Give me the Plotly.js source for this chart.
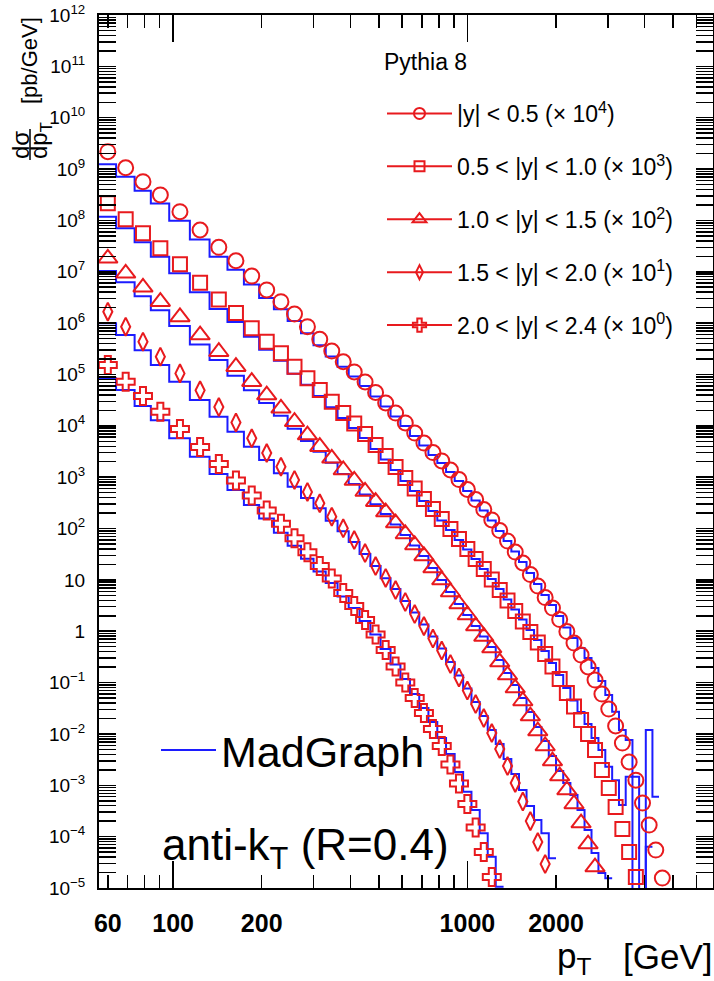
<!DOCTYPE html>
<html>
<head>
<meta charset="utf-8">
<script src="https://cdn.plot.ly/plotly-3.0.1.min.js"></script>
<style>html,body{margin:0;padding:0;background:#fff;}#chart{width:714px;height:981px;}</style>
</head>
<body>
<div id="chart"></div>
<script>
// pT bin edges [GeV]
const binEdges = [56, 64, 74, 84, 97, 114, 133, 153, 174, 196, 220, 245, 272, 300, 330, 362, 395, 430, 468, 507, 548, 592, 638, 686, 737, 790, 846, 905, 967, 1032, 1101, 1172, 1248, 1327, 1410, 1497, 1588, 1684, 1784, 1890, 2000, 2116, 2238, 2366, 2500, 2640, 2787, 2941, 3103, 3273, 3450, 3637, 3832, 4037, 4252, 4477, 4713];

// Pythia 8 (markers), dsigma/dpT [pb/GeV], scaled
const pythiaY05 = [2.18e9, 1.06e9, 5.67e8, 3.13e8, 1.48e8, 6.50e7, 2.99e7, 1.64e7, 8.26e6, 4.42e6, 2.61e6, 1.50e6, 8.51e5, 4.84e5, 2.86e5, 1.77e5, 1.12e5, 7.13e4, 4.46e4, 2.78e4, 1.77e4, 1.14e4, 7.24e3, 4.62e3, 3.02e3, 2.07e3, 1.38e3, 899, 575, 367, 234, 147, 91.4, 57.1, 34.8, 21.3, 12.7, 7.59, 4.53, 2.83, 1.69, 0.986, 0.589, 0.344, 0.201, 0.112, 0.0598, 0.0305, 0.0143, 6.65e-3, 2.84e-3, 1.26e-3, 4.51e-4, 1.68e-4, 5.48e-5, 1.56e-5];
const pythiaY10 = [2.15e8, 1.05e8, 5.61e7, 2.86e7, 1.40e7, 6.12e6, 2.88e6, 1.57e6, 7.92e5, 4.35e5, 2.58e5, 1.42e5, 8.41e4, 4.98e4, 2.94e4, 1.77e4, 1.11e4, 6.92e3, 4.23e3, 2.58e3, 1.58e3, 964, 601, 376, 240, 153, 97.7, 62.5, 39.9, 25.5, 16.3, 10.2, 6.34, 3.96, 2.48, 1.55, 0.966, 0.603, 0.360, 0.206, 0.117, 0.0627, 0.0342, 0.0187, 9.95e-3, 4.86e-3, 1.98e-3, 8.85e-4, 3.78e-4, 1.41e-4, 5.04e-5, 1.64e-5];
const pythiaY15 = [1.83e7, 9.33e6, 4.98e6, 2.61e6, 1.32e6, 5.86e5, 2.77e5, 1.42e5, 7.23e4, 3.98e4, 2.19e4, 1.20e4, 6.62e3, 3.92e3, 2.33e3, 1.38e3, 861, 526, 333, 209, 128, 78.2, 47.8, 29.2, 17.0, 9.93, 5.81, 3.39, 2.07, 1.26, 0.789, 0.471, 0.251, 0.140, 0.0783, 0.0438, 0.0223, 0.0114, 5.82e-3, 2.96e-3, 1.51e-3, 8.09e-4, 4.32e-4, 1.84e-4, 7.18e-5, 2.56e-5];
const pythiaY20 = [1.67e6, 8.51e5, 4.35e5, 2.22e5, 1.05e5, 4.91e4, 2.32e4, 1.16e4, 5.71e3, 2.95e3, 1.60e3, 881, 514, 310, 170, 101, 59.7, 33.3, 18.6, 10.9, 6.34, 3.71, 2.16, 1.26, 0.721, 0.421, 0.230, 0.126, 0.0700, 0.0382, 0.0204, 0.0104, 5.08e-3, 2.37e-3, 1.11e-3, 4.83e-4, 2.01e-4, 7.85e-5, 2.93e-5, 9.0e-6];
const pythiaY24 = [1.53e5, 7.23e4, 3.80e4, 1.88e4, 8.67e3, 3.86e3, 1.80e3, 861, 440, 224, 124, 64.4, 34.4, 18.6, 10.6, 5.55, 3.10, 1.65, 0.863, 0.431, 0.206, 0.100, 0.0500, 0.0255, 0.0125, 5.82e-3, 2.54e-3, 1.08e-3, 4.32e-4, 1.50e-4, 5.01e-5, 1.63e-5];

// MadGraph (blue histograms), same scaling; 0 = empty bin
const madgraphY05 = [1.24e9, 7.10e8, 3.79e8, 2.13e8, 9.87e7, 4.25e7, 1.95e7, 1.10e7, 5.65e6, 3.08e6, 1.87e6, 1.10e6, 6.36e5, 3.70e5, 2.24e5, 1.42e5, 9.12e4, 5.96e4, 3.72e4, 2.38e4, 1.52e4, 9.91e3, 6.33e3, 4.13e3, 2.70e3, 1.89e3, 1.26e3, 841, 537, 351, 224, 143, 89.4, 57.1, 35.6, 22.3, 13.6, 8.30, 5.07, 3.24, 1.98, 1.18, 0.738, 0.471, 0.301, 0.192, 0.107, 0.0573, 0.0271, 0.0119, 7.61e-3, 1.47e-3, 0, 0.0119, 5.98e-4];
const madgraphY10 = [1.18e8, 7.02e7, 3.75e7, 1.95e7, 9.33e6, 4.00e6, 1.88e6, 1.05e6, 5.41e5, 3.03e5, 1.85e5, 1.03e5, 6.29e4, 3.80e4, 2.30e4, 1.42e4, 9.06e3, 5.78e3, 3.53e3, 2.21e3, 1.38e3, 841, 537, 343, 219, 143, 93.5, 59.7, 39.0, 25.5, 16.3, 10.4, 6.64, 4.14, 2.65, 1.69, 1.06, 0.674, 0.411, 0.240, 0.140, 0.0783, 0.0448, 0.0267, 0.0156, 8.32e-3, 4.86e-3, 2.30e-3, 1.26e-3, 4.12e-4, 1.47e-3, 0, 0, 6.36e-5];
const madgraphY15 = [1.03e7, 6.23e6, 3.33e6, 1.78e6, 8.79e5, 3.83e5, 1.91e5, 9.46e4, 4.93e4, 2.78e4, 1.57e4, 8.79e3, 5.06e3, 3.13e3, 1.90e3, 1.15e3, 736, 459, 297, 192, 120, 74.8, 46.7, 29.2, 17.0, 9.93, 5.81, 3.39, 2.07, 1.26, 0.789, 0.492, 0.275, 0.153, 0.0896, 0.0500, 0.0267, 0.0136, 7.28e-3, 3.72e-3, 1.90e-3, 1.11e-3, 6.46e-4, 3.30e-4, 1.35e-4, 4.80e-5, 1.95e-5, 1.54e-5];
const madgraphY20 = [9.91e5, 5.86e5, 2.97e5, 1.53e5, 7.23e4, 3.18e4, 1.50e4, 7.67e3, 3.92e3, 2.16e3, 1.19e3, 652, 393, 248, 142, 88.3, 54.6, 31.9, 18.6, 10.7, 6.64, 3.87, 2.31, 1.35, 0.789, 0.461, 0.251, 0.137, 0.0766, 0.0418, 0.0223, 0.0119, 6.36e-3, 3.25e-3, 1.66e-3, 8.09e-4, 3.94e-4, 2.10e-4, 1.17e-4, 3.78e-5];
const madgraphY24 = [8.41e4, 4.98e4, 2.43e4, 1.29e4, 5.71e3, 2.50e3, 1.15e3, 562, 287, 157, 82.8, 46.0, 25.7, 14.6, 8.69, 4.74, 2.83, 1.58, 0.863, 0.450, 0.225, 0.117, 0.0598, 0.0319, 0.0171, 8.32e-3, 4.06e-3, 1.81e-3, 7.49e-4, 3.30e-4, 1.16e-4, 4.06e-5, 1.06e-5];

const seriesLabels = [
  '|y| < 0.5 (× 10<sup>4</sup>)',
  '0.5 < |y| < 1.0 (× 10<sup>3</sup>)',
  '1.0 < |y| < 1.5 (× 10<sup>2</sup>)',
  '1.5 < |y| < 2.0 (× 10<sup>1</sup>)',
  '2.0 < |y| < 2.4 (× 10<sup>0</sup>)'
];
const xTickVals = [60, 100, 200, 1000, 2000];
const xTickText = ['60', '100', '200', '1000', '2000'];
const xMinorVals = [60, 70, 80, 90, 200, 300, 400, 500, 600, 700, 800, 900, 2000, 3000, 4000, 5000, 6000];
const xLongTicks = [100, 1000];
const yTickVals = [1e-5, 1e-4, 1e-3, 1e-2, 1e-1, 1, 10, 1e2, 1e3, 1e4, 1e5, 1e6, 1e7, 1e8, 1e9, 1e10, 1e11, 1e12];
const yTickText = ['10<sup>−5</sup>', '10<sup>−4</sup>', '10<sup>−3</sup>', '10<sup>−2</sup>', '10<sup>−1</sup>', '1', '10', '10<sup>2</sup>', '10<sup>3</sup>', '10<sup>4</sup>', '10<sup>5</sup>', '10<sup>6</sup>', '10<sup>7</sup>', '10<sup>8</sup>', '10<sup>9</sup>', '10<sup>10</sup>', '10<sup>11</sup>', '10<sup>12</sup>'];

const RED = 'rgb(232,26,30)';
const BLUE = 'rgb(28,28,255)';
const symbols = ['circle-open', 'square-open', 'triangle-up-open', 'diamond-tall-open', 'cross-open'];
const sizes = [15, 14, 17, 13, 15];
const legendSizes = [11, 10, 12, 10, 11];
const pythiaSets = [pythiaY05, pythiaY10, pythiaY15, pythiaY20, pythiaY24];
const mgSets = [madgraphY05, madgraphY10, madgraphY15, madgraphY20, madgraphY24];

const yMinorVals = [];
for (let k = -5; k < 12; k++) for (let m = 2; m <= 9; m++) yMinorVals.push(m * Math.pow(10, k));

const centers = vals => vals.map((_, i) => (binEdges[i] + binEdges[i + 1]) / 2);

const traces = [];
// MadGraph histograms
mgSets.forEach((vals, s) => {
  const ys = vals.map(v => v > 0 ? v : 1e-12);
  ys.push(ys[ys.length - 1]);
  traces.push({
    type: 'scatter', mode: 'lines', x: binEdges.slice(0, vals.length + 1), y: ys,
    line: {shape: 'hv', color: BLUE, width: 2},
    name: 'MadGraph', legend: 'legend2', showlegend: s === 0, hoverinfo: 'skip'
  });
});
// Pythia markers
pythiaSets.forEach((vals, s) => {
  traces.push({
    type: 'scatter', mode: 'markers', x: centers(vals), y: vals, cliponaxis: false,
    marker: {symbol: symbols[s], size: sizes[s], color: RED, line: {color: RED, width: 2}},
    showlegend: false, hoverinfo: 'skip'
  });
});
// Legend entries (Pythia) - placeholders with no drawn point
pythiaSets.forEach((vals, s) => {
  traces.push({
    type: 'scatter', mode: 'lines+markers', x: [null], y: [null],
    marker: {symbol: symbols[s], size: legendSizes[s], color: RED, line: {color: RED, width: 2}},
    line: {color: RED, width: 2},
    name: seriesLabels[s], legendgroup: 'g' + s, showlegend: true, legend: 'legend', hoverinfo: 'skip'
  });
});
// long ticks axis carrier
traces.push({type: 'scatter', mode: 'markers', x: [null], y: [null], xaxis: 'x2', showlegend: false, hoverinfo: 'skip'});

const W = 614, H = 873, L0 = 99, T0 = 15;
const px = x => (x - L0) / W;
const py = y => (T0 + H - y) / H;

const layout = {
  width: 714, height: 981,
  margin: {l: 99, r: 1, t: 15, b: 93, pad: 0},
  paper_bgcolor: '#fff', plot_bgcolor: '#fff',
  font: {family: 'Liberation Sans, Arial, Helvetica, sans-serif', color: '#000'},
  showlegend: true,
  xaxis: {
    type: 'log', range: [Math.log10(56), 3.8344], tickmode: 'array', tickvals: xTickVals, ticktext: xTickText,
    ticks: 'inside', ticklen: 13, tickwidth: 1.5, tickcolor: '#000',
    showline: true, linewidth: 2, linecolor: '#000', mirror: 'allticks',
    showgrid: false, zeroline: false, tickfont: {size: 25, weight: 'bold'}, ticklabelstandoff: 12,
    minor: {tickmode: 'array', tickvals: xMinorVals, ticks: 'inside', ticklen: 13, tickwidth: 1.5, tickcolor: '#000', showgrid: false}
  },
  xaxis2: {
    type: 'log', range: [Math.log10(56), 3.8344], overlaying: 'x', anchor: 'y', side: 'bottom',
    tickmode: 'array', tickvals: xLongTicks, ticks: 'inside', ticklen: 27, tickwidth: 1.5, tickcolor: '#000',
    showticklabels: false, showline: false, showgrid: false, zeroline: false, mirror: 'ticks'
  },
  yaxis: {
    type: 'log', range: [-5, 12], tickmode: 'array', tickvals: yTickVals, ticktext: yTickText,
    ticks: 'inside', ticklen: 17, tickwidth: 1.5, tickcolor: '#000',
    showline: true, linewidth: 2, linecolor: '#000', mirror: 'allticks',
    showgrid: false, zeroline: false, tickfont: {size: 19}, ticklabelstandoff: 8,
    minor: {tickmode: 'array', tickvals: yMinorVals, ticks: 'inside', ticklen: 9, tickwidth: 1.5, tickcolor: '#000', showgrid: false}
  },
  legend: {
    x: px(382), y: py(92), xanchor: 'left', yanchor: 'top', bgcolor: 'rgba(0,0,0,0)',
    font: {size: 23}, itemwidth: 65, traceorder: 'grouped', tracegroupgap: 20
  },
  legend2: {
    x: px(156), y: py(750), xanchor: 'left', yanchor: 'middle', bgcolor: 'rgba(0,0,0,0)',
    font: {size: 43}, itemwidth: 55
  },
  annotations: [
    {text: 'Pythia 8', xref: 'paper', yref: 'paper', x: px(382), y: py(62), xanchor: 'left', yanchor: 'middle', showarrow: false, font: {size: 23}},
    {text: 'anti-k<sub>T</sub> (R=0.4)', xref: 'paper', yref: 'paper', x: px(160), y: py(848), xanchor: 'left', yanchor: 'middle', showarrow: false, font: {size: 44}},
    {text: 'p<sub>T</sub>', xref: 'paper', yref: 'paper', x: px(555), y: py(958), xanchor: 'left', yanchor: 'middle', showarrow: false, font: {size: 35}},
    {text: '[GeV]', xref: 'paper', yref: 'paper', x: px(714), y: py(956), xanchor: 'right', yanchor: 'middle', showarrow: false, font: {size: 35}},
    {text: '[pb/GeV]', xref: 'paper', yref: 'paper', x: px(29), y: py(61), xanchor: 'center', yanchor: 'middle', textangle: -90, showarrow: false, font: {size: 22}},
    {text: 'dσ', xref: 'paper', yref: 'paper', x: px(20), y: py(145), xanchor: 'center', yanchor: 'middle', textangle: -90, showarrow: false, font: {size: 24}},
    {text: 'dp<sub>T</sub>', xref: 'paper', yref: 'paper', x: px(40), y: py(141), xanchor: 'center', yanchor: 'middle', textangle: -90, showarrow: false, font: {size: 24}}
  ],
  shapes: [
    {type: 'line', xref: 'paper', yref: 'paper', x0: px(30), x1: px(30), y0: py(129), y1: py(160), line: {color: '#000', width: 1.5}}
  ]
};

Plotly.newPlot('chart', traces, layout, {displayModeBar: false, staticPlot: true});
</script>
</body>
</html>
